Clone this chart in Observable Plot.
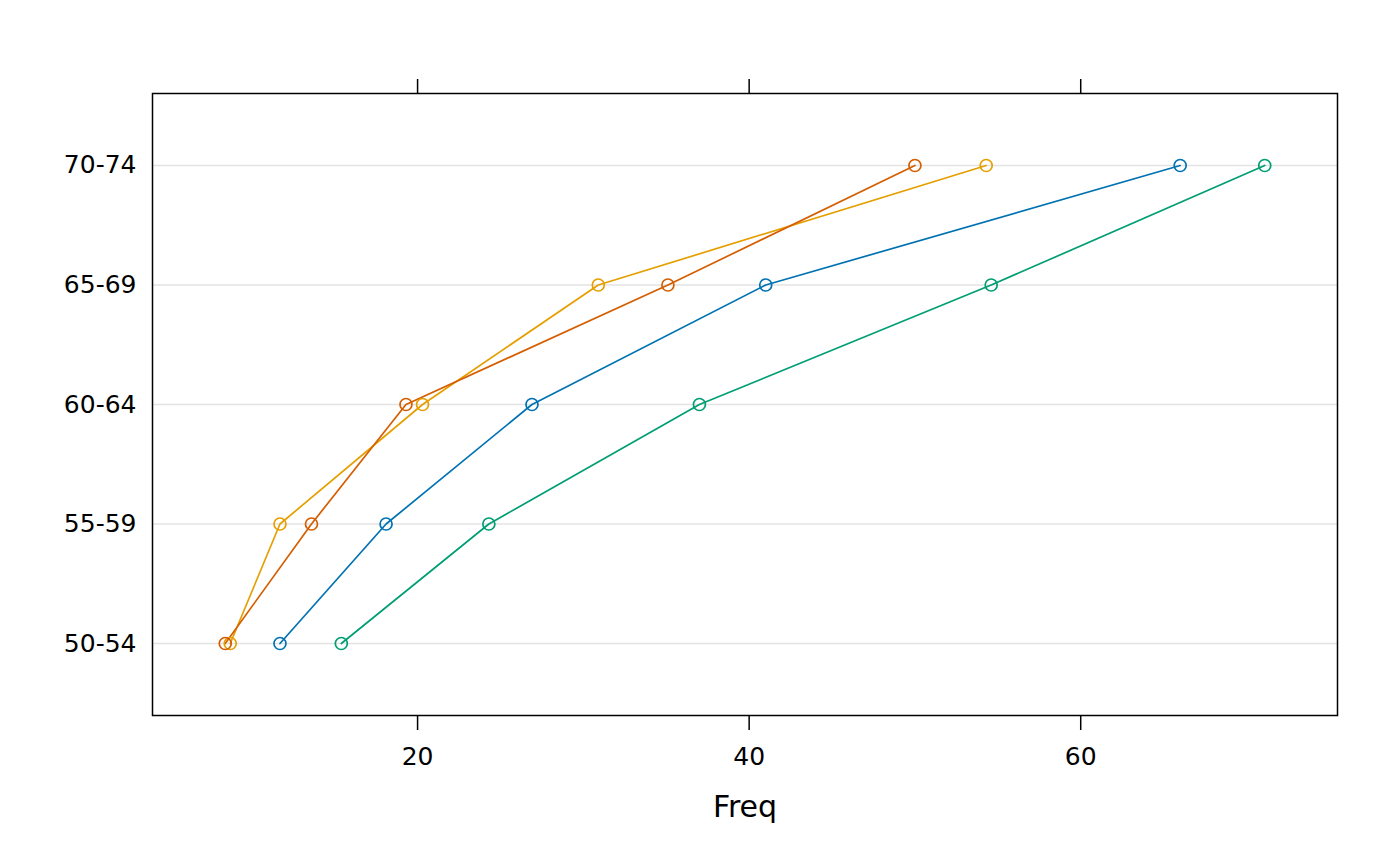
<!DOCTYPE html>
<html>
<head>
<meta charset="utf-8">
<script src="https://cdn.jsdelivr.net/npm/d3@7"></script>
<script src="https://cdn.jsdelivr.net/npm/@observablehq/plot@0.6"></script>
<style>
  html, body { margin: 0; padding: 0; background: #fff; }
  #chart svg { display: block; }
</style>
</head>
<body>
<div id="chart"></div>
<script>
const ageGroups = ["50-54", "55-59", "60-64", "65-69", "70-74"];
const seriesNames = ["Rural Male", "Rural Female", "Urban Male", "Urban Female"];
const ruralMale = [11.7, 18.1, 26.9, 41.0, 66.0];
const ruralFemale = [8.7, 11.7, 20.3, 30.9, 54.3];
const urbanMale = [15.4, 24.3, 37.0, 54.6, 71.1];
const urbanFemale = [8.4, 13.6, 19.3, 35.1, 50.0];
const seriesColors = ["#0072B2", "#E69F00", "#009E73", "#D55E00"];
const xTicks = [20, 40, 60];

const seriesValues = [ruralMale, ruralFemale, urbanMale, urbanFemale];
const data = [];
seriesNames.forEach((s, i) => {
  ageGroups.forEach((a, j) => data.push({series: s, age: a, freq: seriesValues[i][j]}));
});

const allVals = seriesValues.flat();
const lo = d3.min(allVals), hi = d3.max(allVals);
const ext = (hi - lo) * 0.07;

const font = "DejaVu Sans, sans-serif";

const chart = Plot.plot({
  width: 1400,
  height: 866,
  marginLeft: 152,
  marginRight: 63,
  marginTop: 93,
  marginBottom: 151,
  style: {fontFamily: font, background: "#fff", color: "#000"},
  x: {domain: [lo - ext, hi + ext]},
  y: {type: "point", domain: ageGroups.slice().reverse(), padding: 0.6025, round: false},
  color: {domain: seriesNames, range: seriesColors},
  marks: [
    Plot.gridY({stroke: "#e3e3e3", strokeOpacity: 1, strokeWidth: 1.4}),
    Plot.line(data, {x: "freq", y: "age", z: "series", stroke: "series", strokeWidth: 1.7}),
    Plot.dot(data, {x: "freq", y: "age", stroke: "series", r: 6, strokeWidth: 1.7, fill: "none"}),
    Plot.frame({stroke: "#000", strokeWidth: 1.5}),
    Plot.axisX({anchor: "bottom", ticks: xTicks, tickSize: 15, tickPadding: 17, fontSize: 25, label: null, strokeWidth: 1.5}),
    Plot.axisX({anchor: "top", ticks: xTicks, tickSize: 15, tickFormat: () => "", label: null, strokeWidth: 1.5}),
    Plot.axisY({anchor: "left", tickSize: 0, tickPadding: 16, fontSize: 25, label: null}),
    Plot.text(["Freq"], {frameAnchor: "bottom", lineAnchor: "middle", dy: 92, fontSize: 30, fill: "#000"})
  ]
});
document.getElementById("chart").appendChild(chart);
</script>
</body>
</html>
